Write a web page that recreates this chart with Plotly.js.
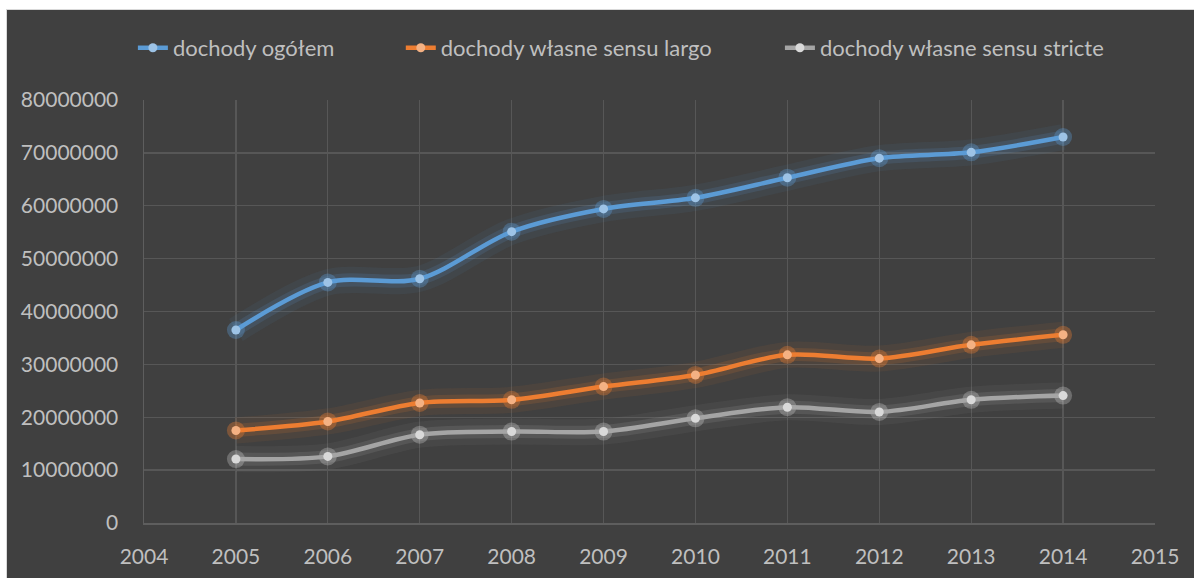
<!DOCTYPE html>
<html>
<head>
<meta charset="utf-8">
<script src="https://cdn.plot.ly/plotly-3.0.1.min.js"></script>
<style>
  html, body { margin: 0; padding: 0; background: #ffffff; width: 1194px; height: 578px; overflow: hidden; }
  #wrap { position: absolute; left: 6px; top: 9px; width: 1188px; height: 569px; background: #d9d9d9; }
  #chart { position: absolute; left: 1px; top: 1px; width: 1187px; height: 568px; }
</style>
</head>
<body>
<div id="wrap"><div id="chart"></div></div>
<script>
const years = [2005, 2006, 2007, 2008, 2009, 2010, 2011, 2012, 2013, 2014];
const seriesNames = ["dochody ogółem", "dochody własne sensu largo", "dochody własne sensu stricte"];
const dochodyOgolem = [36500000, 45500000, 46200000, 55100000, 59400000, 61500000, 65300000, 69000000, 70100000, 73000000];
const dochodyLargo  = [17500000, 19200000, 22700000, 23300000, 25800000, 28000000, 31800000, 31100000, 33700000, 35600000];
const dochodyStricte = [12100000, 12600000, 16700000, 17300000, 17300000, 19800000, 21900000, 21000000, 23300000, 24100000];

const allValues = [dochodyOgolem, dochodyLargo, dochodyStricte];
const lineColors = ["#5b9bd5", "#ed7d31", "#a5a5a5"];
const glowOuter = ["rgba(91,155,213,0.07)", "rgba(237,125,49,0.07)", "rgba(210,210,210,0.05)"];
const glowInner = ["rgba(91,155,213,0.15)", "rgba(237,125,49,0.15)", "rgba(210,210,210,0.11)"];
const markerColors = ["#9dc3e6", "#f4b183", "#d9d9d9"];
const markerGlow = ["rgba(91,155,213,0.35)", "rgba(237,125,49,0.35)", "rgba(225,225,225,0.28)"];
const legendIds = ["legend", "legend2", "legend3"];
const legendX = [-0.011, 0.254, 0.629];

const traces = [];
allValues.forEach((vals, i) => {
  traces.push({
    x: years, y: vals, type: "scatter", mode: "lines",
    line: { color: glowOuter[i], width: 26, shape: "spline", smoothing: 0.9 },
    showlegend: false, hoverinfo: "skip"
  });
  traces.push({
    x: years, y: vals, type: "scatter", mode: "lines",
    line: { color: glowInner[i], width: 13, shape: "spline", smoothing: 0.9 },
    showlegend: false, hoverinfo: "skip"
  });
  traces.push({
    x: years, y: vals, type: "scatter", mode: "markers",
    marker: { color: markerGlow[i], size: 18, line: { width: 0 } },
    showlegend: false, hoverinfo: "skip"
  });
});
allValues.forEach((vals, i) => {
  traces.push({
    x: years, y: vals, type: "scatter", mode: "lines+markers",
    name: seriesNames[i], legend: legendIds[i],
    line: { color: lineColors[i], width: 4.5, shape: "spline", smoothing: 0.9 },
    marker: { color: markerColors[i], size: 9, line: { width: 0 } }
  });
});

const fontFam = "Lato, 'Open Sans', sans-serif";
function legendCfg(x) {
  return {
    orientation: "h", x: x, xanchor: "left", y: 1.123, yanchor: "middle",
    font: { family: fontFam, size: 22, color: "#bfbfbf" },
    bgcolor: "rgba(0,0,0,0)"
  };
}
const layout = {
  width: 1187, height: 568,
  paper_bgcolor: "#404040",
  plot_bgcolor: "#404040",
  margin: { l: 137, r: 39, t: 90, b: 55 },
  font: { family: fontFam, size: 21, color: "#bfbfbf" },
  showlegend: true,
  legend: legendCfg(legendX[0]),
  legend2: legendCfg(legendX[1]),
  legend3: legendCfg(legendX[2]),
  xaxis: {
    range: [2004, 2015], dtick: 1, tick0: 2004,
    showgrid: true, gridcolor: "#575757", gridwidth: 1.3,
    showline: true, linecolor: "#5e5e5e", linewidth: 1.5,
    zeroline: false, ticks: "", ticklabelstandoff: 14,
    tickfont: { family: fontFam, size: 21, color: "#bfbfbf" },
    fixedrange: true
  },
  yaxis: {
    range: [0, 80000000], dtick: 10000000, tick0: 0,
    tickformat: "d",
    showgrid: true, gridcolor: "#575757", gridwidth: 1.3,
    showline: true, linecolor: "#5e5e5e", linewidth: 1.5,
    zeroline: false, ticks: "", ticklabelstandoff: 20,
    tickfont: { family: fontFam, size: 21, color: "#bfbfbf" },
    fixedrange: true
  },
  hovermode: false
};

Plotly.newPlot("chart", traces, layout, { displayModeBar: false, staticPlot: true });
</script>
</body>
</html>
